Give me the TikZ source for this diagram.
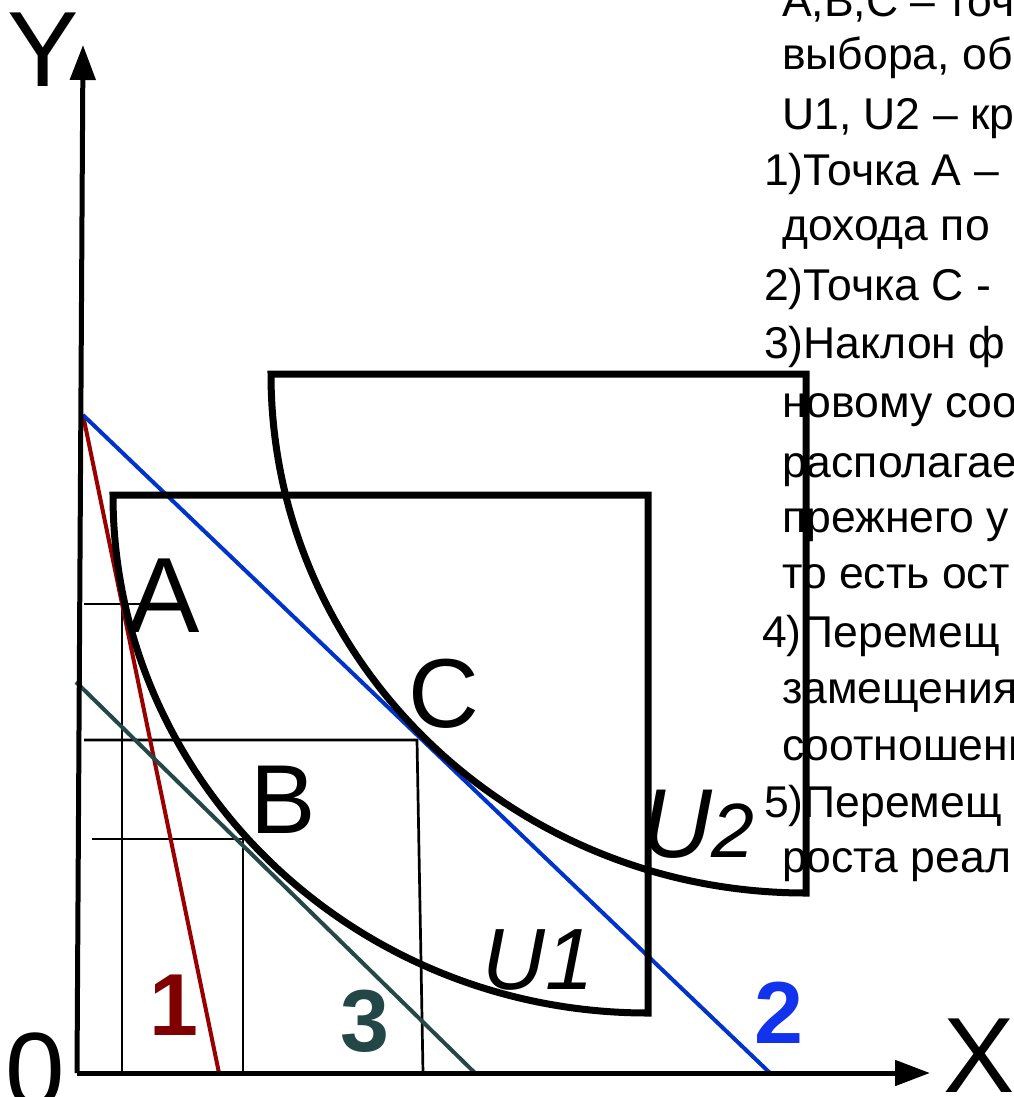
\documentclass[tikz,border=0pt]{standalone}
\usepackage{fontspec}
\setmainfont{Liberation Sans}
\usetikzlibrary{arrows.meta}
\definecolor{redline}{HTML}{990000}
\definecolor{redlab}{HTML}{800000}
\definecolor{blueline}{HTML}{0033CC}
\definecolor{bluelab}{HTML}{1133EE}
\definecolor{slateline}{HTML}{244848}
\definecolor{slatelab}{HTML}{234646}
\begin{document}
\begin{tikzpicture}[x=1pt,y=-1pt,
  axisline/.style={line width=5pt,-{Triangle[length=35pt,width=25pt]}},
  guide/.style={line width=2.7pt},
  ushape/.style={line width=7pt,line join=miter},
  budget/.style={line width=4pt},
  biglab/.style={inner sep=0pt,anchor=base,font=\fontsize{107}{107}\selectfont},
  ptlab/.style={inner sep=0pt,anchor=base},
  numlab/.style={inner sep=0pt,anchor=base,font=\fontsize{88}{88}\selectfont\bfseries},
  rtext/.style={inner sep=0pt,anchor=base west,font=\fontsize{44.5}{56}\selectfont}]
\fill[white] (0,0) rectangle (1013,1097);
\useasboundingbox (0,0) rectangle (1013,1097);
\begin{scope}
\clip (0,0) rectangle (1013,1097);
% right-hand text
\node[rtext] (t1)  at (782,17)  {A,B,C – точ};
\node[rtext] (t2)  at (782,70)  {выбора, об};
\node[rtext] (t3)  at (782,129) {U1, U2 – кр};
\node[rtext] (t4)  at (764,185) {1)Точка А –};
\node[rtext] (t5)  at (782,240) {дохода по};
\node[rtext] (t6)  at (764,300) {2)Точка С -};
\node[rtext] (t7)  at (764,358) {3)Наклон ф};
\node[rtext] (t8)  at (782,417) {новому соо};
\node[rtext] (t9)  at (782,477) {располагае};
\node[rtext] (t10) at (782,532) {прежнего у};
\node[rtext] (t11) at (782,588) {то есть ост};
\node[rtext] (t12) at (762,647) {4)Перемещ};
\node[rtext] (t13) at (782,703) {замещения};
\node[rtext] (t14) at (782,760) {соотношени};
\node[rtext] (t15) at (764,817) {5)Перемещ};
\node[rtext] (t16) at (782,872) {роста реал};

% key points
\coordinate (O) at (77,1073);
\coordinate (Ytip) at (83,45);
\coordinate (Xtip) at (930,1073);
\coordinate (Ytop) at (83,415);
\coordinate (R1) at (219,1073);
\coordinate (R2) at (770,1073);
\coordinate (S0) at (76,682);
\coordinate (S1) at (475,1073);

% guide lines
\draw[guide] (84,604) -- (140,604);
\draw[guide] (122,604) -- (122,1073);
\draw[guide] (84,740) -- (417,740) -- (423,1073);
\draw[guide] (92,839) -- (243,839) -- (243,1073);

% budget lines
\draw[budget,redline] (Ytop) -- (R1);
\draw[budget,blueline] (Ytop) -- (R2);
\draw[budget,slateline] (S0) -- (S1);

% indifference curves
\draw[ushape] (648,495) -- (113,495) arc[start angle=180,end angle=90,x radius=535,y radius=518] -- cycle;
\draw[ushape] (806,374) -- (271,374) arc[start angle=180,end angle=90,x radius=535,y radius=519] -- cycle;

% axes
\draw[axisline] (O) -- (Ytip);
\draw[axisline] (O) -- (Xtip);

% labels
\node[biglab] (ly) at (43,87) {Y};
\node[biglab] (lx) at (979,1092) {X};
\node[biglab] (l0) at (35,1107) {0};
\node[ptlab,font=\fontsize{107}{107}\selectfont] (la) at (164,632) {A};
\node[ptlab,font=\fontsize{98}{98}\selectfont] (lb) at (283,833) {B};
\node[ptlab,font=\fontsize{98}{98}\selectfont] (lc) at (444,727) {C};
\node[inner sep=0pt,anchor=base west,font=\fontsize{98}{98}\selectfont\itshape] (lu2) at (641,857) {U{\fontsize{77}{77}\selectfont 2}};
\node[inner sep=0pt,anchor=base west,font=\fontsize{87}{87}\selectfont\itshape] (lu1) at (482,989) {U1};
\node[numlab,redlab] (n1) at (174,1035) {1};
\node[numlab,slatelab] (n3) at (365,1051) {3};
\node[numlab,bluelab] (n2) at (779,1043) {2};
\end{scope}
\end{tikzpicture}
\end{document}
